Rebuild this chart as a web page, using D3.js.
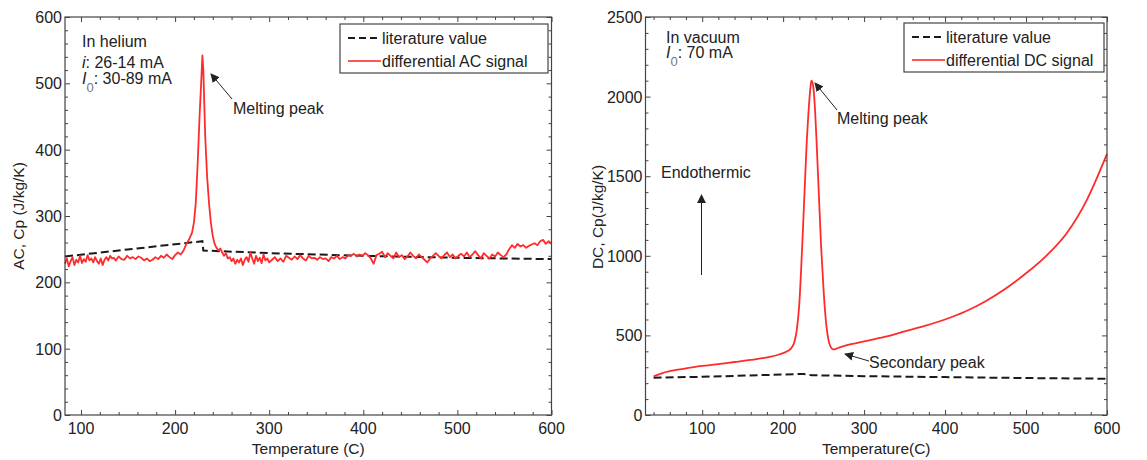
<!DOCTYPE html>
<html>
<head>
<meta charset="utf-8">
<script src="https://cdn.jsdelivr.net/npm/d3@7"></script>
<style>
  body { margin: 0; background: #fff; }
  svg { font-family: "Liberation Sans", Arial, Helvetica, sans-serif; }
</style>
</head>
<body>
<svg id="chart" width="1147" height="460"></svg>
<script>
// ---- data ----
const acTemp = [83,85,87,89,91,93,95,97,99,101,103,105,107,109,111,113,115,117,119,121,123,125,127,129,131,133,135,137,140,143,146,149,152,155,158,161,164,167,170,173,176,179,182,185,188,191,194,197,200,203,206,209,212,215,218,220,222,224,226,228,229,230,231,232,234,236,238,240,242,244,246,248,250,252,254,256,258,260,262,264,266,268,270,272,274,276,278,280,282,284,286,288,290,292,294,296,298,300,303,306,309,312,315,318,321,324,327,330,333,336,339,342,345,348,351,354,357,360,363,366,369,372,375,378,381,384,387,390,393,396,399,402,405,408,411,414,417,420,423,426,429,432,435,438,441,444,447,450,453,456,459,462,465,468,471,474,477,480,483,486,489,492,495,498,501,504,507,510,513,516,519,522,525,528,531,534,537,540,543,546,549,552,555,558,561,564,567,570,573,576,579,582,585,588,591,594,597,600];
const acCp = [228,236,224,232,238,226,234,230,240,229,235,231,241,233,236,230,238,232,228,236,226,234,238,233,240,236,237,233,239,235,234,240,236,238,235,239,237,233,236,232,234,238,235,240,237,242,238,235,241,245,242,248,258,265,275,290,320,380,450,510,542,520,470,420,360,320,290,270,258,252,248,251,245,240,244,236,238,232,236,228,234,230,236,226,234,238,231,245,236,228,240,232,237,229,242,233,236,230,234,238,232,236,231,240,237,234,239,235,241,236,233,240,236,237,234,238,235,236,232,238,236,240,235,238,236,241,240,243,239,242,240,244,241,236,228,241,243,246,238,244,240,236,245,238,241,235,239,245,240,236,242,238,234,230,236,240,244,240,236,241,245,238,242,236,240,243,239,245,238,242,247,241,236,244,240,236,242,239,245,241,238,242,250,256,252,258,254,256,252,255,257,259,256,262,264,258,262,258];
const acLitTemp = [83, 229, 230, 300, 400, 500, 600];
const acLitCp = [239, 262, 248, 244, 240, 237, 235];

const dcTemp = [40,50,60,70,80,90,100,120,140,160,180,195,205,210,214,217,220,223,226,229,232,234,235,237,239,241,244,247,250,253,256,259,262,265,270,280,300,325,350,375,400,425,450,475,500,525,550,575,600];
const dcCp = [243,262,275,285,293,301,308,320,333,346,362,380,400,420,460,540,700,1000,1350,1700,1950,2070,2100,2070,1950,1750,1400,1050,780,580,470,425,412,415,425,440,462,490,525,560,600,650,715,795,890,1000,1140,1350,1640];
const dcLitTemp = [40, 100, 225, 235, 300, 400, 500, 600];
const dcLitCp = [234, 240, 258, 250, 244, 238, 232, 228];

const xMajor = [100, 200, 300, 400, 500, 600];
const acYMajor = [0, 100, 200, 300, 400, 500, 600];
const dcYMajor = [0, 500, 1000, 1500, 2000, 2500];

const svg = d3.select("#chart");
const RED = "#ff2b2b";

svg.append("defs").append("marker")
  .attr("id", "arrow")
  .attr("viewBox", "0 0 10 10")
  .attr("refX", 9).attr("refY", 5)
  .attr("markerWidth", 9).attr("markerHeight", 9)
  .attr("markerUnits", "userSpaceOnUse")
  .attr("orient", "auto")
  .append("path")
  .attr("d", "M0,0 L10,5 L0,10 z")
  .attr("fill", "#222");

function drawPanel(p) {
  const g = svg.append("g");
  const x = d3.scaleLinear().domain(p.xDomain).range([p.left, p.right]);
  const y = d3.scaleLinear().domain(p.yDomain).range([p.bottom, p.top]);

  const xMinor = d3.range(Math.ceil(p.xDomain[0] / 20) * 20, p.xDomain[1] + 1, 20)
    .filter(v => !xMajor.includes(v));
  const yMinor = d3.range(p.yDomain[0], p.yDomain[1] + 1, p.yMinorStep)
    .filter(v => !p.yMajor.includes(v));

  // ticks inside on all four sides
  const tickSets = [
    [d3.axisBottom(x), `translate(0,${p.bottom})`, xMajor, xMinor],
    [d3.axisTop(x), `translate(0,${p.top})`, xMajor, xMinor],
    [d3.axisLeft(y), `translate(${p.left},0)`, p.yMajor, yMinor],
    [d3.axisRight(y), `translate(${p.right},0)`, p.yMajor, yMinor]
  ];
  tickSets.forEach(([ax, tr, major, minor]) => {
    g.append("g").attr("transform", tr)
      .call(ax.tickValues(minor).tickSizeInner(-3).tickSizeOuter(0).tickFormat(""))
      .call(s => s.select(".domain").remove())
      .selectAll("line").attr("stroke", "#444");
    g.append("g").attr("transform", tr)
      .call(ax.tickValues(major).tickSizeInner(-5).tickSizeOuter(0).tickFormat(""))
      .call(s => s.select(".domain").remove())
      .selectAll("line").attr("stroke", "#444");
  });

  // tick labels
  g.append("g").selectAll("text").data(xMajor).join("text")
    .attr("x", d => x(d)).attr("y", p.bottom + 19)
    .attr("text-anchor", "middle")
    .attr("font-size", 16).attr("fill", "#222")
    .text(d => d);
  g.append("g").selectAll("text").data(p.yMajor).join("text")
    .attr("x", p.left - 3).attr("y", d => y(d) + 6)
    .attr("text-anchor", "end")
    .attr("font-size", 16).attr("fill", "#222")
    .text(d => d);

  // axis titles
  g.append("text")
    .attr("x", (p.left + p.right) / 2).attr("y", p.bottom + 39)
    .attr("text-anchor", "middle").attr("font-size", 15.5).attr("fill", "#222")
    .text(p.xTitle);
  g.append("text")
    .attr("transform", `translate(${p.yTitleX},${p.yTitleY}) rotate(-90)`)
    .attr("text-anchor", "middle").attr("font-size", 15.5).attr("fill", "#222")
    .text(p.yTitle);

  // lines
  const line = d3.line().x(d => x(d[0])).y(d => y(d[1]));
  g.append("path")
    .datum(d3.zip(p.litT, p.litV))
    .attr("fill", "none").attr("stroke", "#1a1a1a")
    .attr("stroke-width", 2).attr("stroke-dasharray", "8,4")
    .attr("d", line);
  g.append("path")
    .datum(d3.zip(p.sigT, p.sigV))
    .attr("fill", "none").attr("stroke", RED)
    .attr("stroke-width", 1.8).attr("stroke-linejoin", "round")
    .attr("d", p.smooth ? line.curve(d3.curveMonotoneX) : line);

  // frame
  g.append("rect")
    .attr("x", p.left).attr("y", p.top)
    .attr("width", p.right - p.left).attr("height", p.bottom - p.top)
    .attr("fill", "none").attr("stroke", "#444").attr("stroke-width", 1.2);

  // legend
  const lg = p.legend;
  g.append("rect")
    .attr("x", lg.x).attr("y", lg.y).attr("width", lg.w).attr("height", lg.h)
    .attr("fill", "#fff").attr("stroke", "#444").attr("stroke-width", 1.2);
  g.append("line")
    .attr("x1", lg.x + 8).attr("x2", lg.x + 41)
    .attr("y1", lg.y + 14).attr("y2", lg.y + 14)
    .attr("stroke", "#1a1a1a").attr("stroke-width", 2).attr("stroke-dasharray", "7,4");
  g.append("line")
    .attr("x1", lg.x + 8).attr("x2", lg.x + 41)
    .attr("y1", lg.y + 37).attr("y2", lg.y + 37)
    .attr("stroke", "#ff5555").attr("stroke-width", 2);
  g.append("text").attr("x", lg.x + 42).attr("y", lg.y + 20)
    .attr("font-size", 16).attr("fill", "#222").text("literature value");
  g.append("text").attr("x", lg.x + 42).attr("y", lg.y + 43)
    .attr("font-size", 16).attr("fill", "#222").text(lg.label);

  return { g, x, y };
}

function note(g, xPos, yPos, parts) {
  const t = g.append("text").attr("x", xPos).attr("y", yPos)
    .attr("font-size", 16).attr("fill", "#222");
  parts.forEach(pt => {
    const s = t.append("tspan").text(pt.t);
    if (pt.i) s.attr("font-style", "italic");
    if (pt.sub) s.attr("baseline-shift", "sub").attr("font-size", 13).attr("fill", "#777");
  });
  return t;
}

function arrow(g, x1, y1, x2, y2) {
  g.append("line")
    .attr("x1", x1).attr("y1", y1).attr("x2", x2).attr("y2", y2)
    .attr("stroke", "#222").attr("stroke-width", 1)
    .attr("marker-end", "url(#arrow)");
}

// ---- left panel: AC ----
const ac = drawPanel({
  left: 65, right: 551.5, top: 17, bottom: 415,
  xDomain: [83, 600], yDomain: [0, 600],
  yMajor: acYMajor, yMinorStep: 20,
  xTitle: "Temperature (C)", yTitle: "AC, Cp (J/kg/K)",
  yTitleX: 24, yTitleY: 216,
  litT: acLitTemp, litV: acLitCp, sigT: acTemp, sigV: acCp, smooth: false,
  legend: { x: 340, y: 24, w: 208, h: 49, label: "differential AC signal" }
});
note(ac.g, 82, 47, [{ t: "In helium" }]);
note(ac.g, 82, 68, [{ t: "i", i: true }, { t: ": 26-14 mA" }]);
note(ac.g, 82, 84, [{ t: "I", i: true }, { t: "0", sub: true }, { t: ": 30-89 mA" }]);
note(ac.g, 233, 114, [{ t: "Melting peak" }]);
arrow(ac.g, 232, 99, 211, 74);

// ---- right panel: DC ----
const dc = drawPanel({
  left: 645.5, right: 1107, top: 17, bottom: 415,
  xDomain: [30, 600], yDomain: [0, 2500],
  yMajor: dcYMajor, yMinorStep: 100,
  xTitle: "Temperature(C)", yTitle: "DC, Cp(J/kg/K)",
  yTitleX: 603, yTitleY: 217,
  litT: dcLitTemp, litV: dcLitCp, sigT: dcTemp, sigV: dcCp, smooth: true,
  legend: { x: 904, y: 23, w: 200, h: 49, label: "differential DC signal" }
});
note(dc.g, 666, 43, [{ t: "In vacuum" }]);
note(dc.g, 666, 58, [{ t: "I", i: true }, { t: "0", sub: true }, { t: ": 70 mA" }]);
note(dc.g, 837, 124, [{ t: "Melting peak" }]);
arrow(dc.g, 837, 110, 815, 83);
note(dc.g, 661, 178, [{ t: "Endothermic" }]);
arrow(dc.g, 701.5, 275, 701.5, 195);
note(dc.g, 869, 368, [{ t: "Secondary peak" }]);
arrow(dc.g, 869, 361, 845, 354);
</script>
</body>
</html>
